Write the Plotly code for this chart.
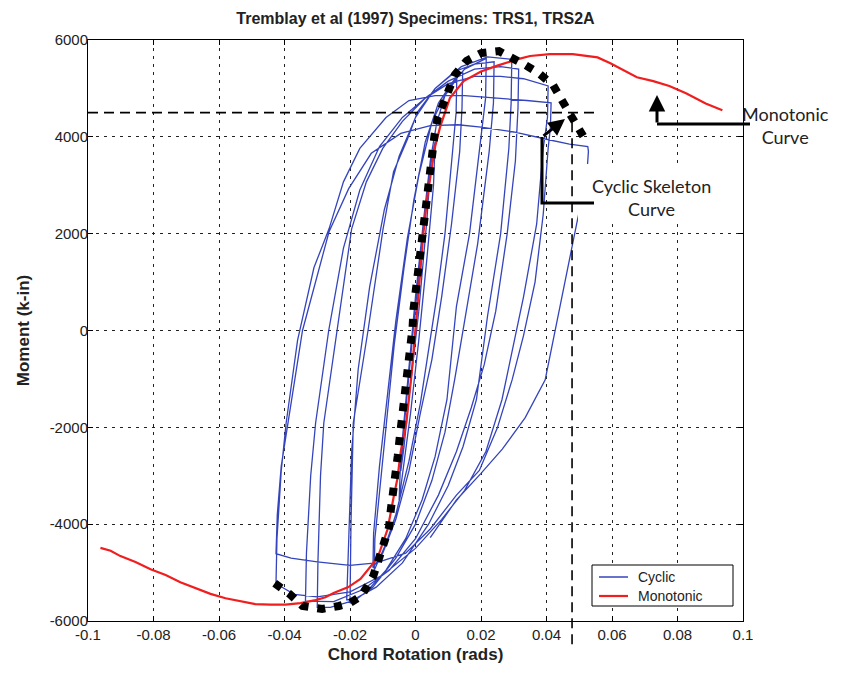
import plotly.graph_objects as go

# ---------------- data ----------------
x_ticks = [-0.1, -0.08, -0.06, -0.04, -0.02, 0, 0.02, 0.04, 0.06, 0.08, 0.1]
x_tick_text = ["-0.1", "-0.08", "-0.06", "-0.04", "-0.02", "0", "0.02", "0.04", "0.06", "0.08", "0.1"]
y_ticks = [-6000, -4000, -2000, 0, 2000, 4000, 6000]
y_tick_text = ["-6000", "-4000", "-2000", "0", "2000", "4000", "6000"]
legend_labels = ["Cyclic", "Monotonic"]

# Monotonic test curve
mono_rot = [-0.0962, -0.0931, -0.0901, -0.0855, -0.0809, -0.0763, -0.0718, -0.0672, -0.0626, -0.058,
            -0.0534, -0.0489, -0.0443, -0.0397, -0.0351, -0.0305, -0.0275, -0.025, -0.0205, -0.0168,
            -0.0116, -0.0085, -0.0067, -0.0055, -0.0045, -0.0028, -0.0012, 0.0, 0.0012, 0.0024,
            0.0035, 0.0048, 0.006, 0.0075, 0.0105, 0.0147, 0.02, 0.025, 0.031, 0.035,
            0.041, 0.048, 0.0556, 0.0595, 0.0645, 0.0676, 0.0726, 0.0775, 0.0826, 0.0886, 0.0937]
mono_mom = [-4490, -4550, -4660, -4780, -4930, -5050, -5200, -5320, -5440, -5530,
            -5590, -5650, -5660, -5660, -5630, -5570, -5510, -5420, -5300, -5130,
            -4700, -4100, -3450, -3050, -2500, -1900, -900, 0, 1000, 2000,
            2700, 3300, 3800, 4200, 4800, 5150, 5350, 5470, 5600, 5670,
            5710, 5710, 5640, 5520, 5350, 5230, 5150, 5050, 4900, 4690, 4550]

# Cyclic skeleton (envelope) curve
skel_rot = [-0.0430, -0.0385, -0.0345, -0.0285, -0.0234, -0.020, -0.0165, -0.0144, -0.0129, -0.0114,
            -0.0096, -0.0081, -0.0075, -0.0066, -0.006, -0.0054, -0.0048, -0.0042, -0.0036, -0.003,
            -0.0024, -0.0018, -0.0009, -0.0006, 0.0, 0.001, 0.0015, 0.002, 0.0024, 0.003,
            0.0039, 0.0045, 0.0051, 0.0058, 0.0068, 0.009, 0.0105, 0.012, 0.0156, 0.0201,
            0.0255, 0.0309, 0.0336, 0.0375, 0.042, 0.0456, 0.048, 0.0515]
skel_mom = [-5220, -5440, -5690, -5750, -5690, -5630, -5480, -5230, -5070, -4760,
            -4340, -4070, -3680, -3300, -2950, -2580, -2200, -1890, -1500, -1160,
            -770, -440, 60, 440, 810, 1160, 1540, 1890, 2260, 2620,
            2990, 3340, 3700, 4030, 4400, 4760, 5110, 5280, 5570, 5730,
            5770, 5590, 5480, 5320, 5070, 4650, 4350, 3980]

# Cyclic test record, one half-cycle per list of (rotation, moment)
h00 = [(0.0, 0), (0.002, 1800), (0.0035, 2800), (0.0045, 3300), (0.0035, 2300), (0.001, 400),
       (-0.002, -1400), (-0.0035, -2400), (-0.0045, -2900), (-0.0035, -2000), (-0.001, -200),
       (0.002, 1900), (0.004, 3200), (0.006, 3900)]
h01 = [(0.0055, 3000), (0.0035, 1500), (0.001, -200), (-0.0015, -1700), (-0.0035, -2800), (-0.005, -3500)]
h02 = [(-0.0045, -2600), (-0.0025, -1100), (0.0, 700), (0.0025, 2300), (0.0045, 3500), (0.0065, 4300),
       (0.009, 4850), (0.0126, 5200)]
h03 = [(0.0124, 4500), (0.0114, 3760), (0.009, 2000), (0.0065, 700), (0.004, -400), (0.0015, -1500),
       (-0.002, -2700), (-0.006, -3800), (-0.009, -4400), (-0.0126, -4950)]
h04 = [(-0.0124, -4300), (-0.0105, -3000), (-0.009, -1910), (-0.0065, -300), (-0.0035, 1300),
       (-0.0005, 2700), (0.003, 3900), (0.007, 4700), (0.0115, 5150), (0.0144, 5350)]
h05 = [(0.0142, 4600), (0.0135, 3700), (0.011, 2200), (0.008, 700), (0.005, -600), (0.0015, -1700),
       (-0.002, -2900), (-0.006, -3900), (-0.010, -4600), (-0.013, -4900)]
h06 = [(-0.0128, -4200), (-0.011, -2800), (-0.0085, -1300), (-0.006, 200), (-0.0025, 1900),
       (0.001, 3200), (0.005, 4300), (0.010, 5000), (0.015, 5400), (0.0216, 5620)]
h07 = [(0.0214, 4800), (0.0195, 3760), (0.0165, 2000), (0.0125, 500), (0.0096, -1430), (0.006, -2600),
       (0.002, -3500), (-0.003, -4300), (-0.009, -4950), (-0.015, -5400), (-0.020, -5630)]
h08 = [(-0.0197, -4000), (-0.019, -1910), (-0.0145, 0), (-0.0099, 2100), (-0.0067, 3280),
       (-0.0024, 3960), (0.0006, 4510), (0.006, 5000), (0.012, 5350), (0.018, 5500), (0.024, 5550)]
h09 = [(0.0238, 4700), (0.0225, 3700), (0.019, 1800), (0.015, 200), (0.012, -1000), (0.009, -2100),
       (0.005, -3100), (0.0, -4000), (-0.006, -4700), (-0.013, -5300), (-0.018, -5550), (-0.021, -5560)]
h10 = [(-0.0205, -4500), (-0.0195, -2500), (-0.0175, -800), (-0.014, 900), (-0.0095, 2500),
       (-0.005, 3600), (0.0, 4400), (0.006, 5000), (0.014, 5450), (0.022, 5650), (0.0294, 5600)]
h11 = [(0.0292, 4700), (0.0285, 3760), (0.026, 2000), (0.022, 300), (0.0186, -1430), (0.0145, -2400),
       (0.010, -3200), (0.004, -4000), (-0.004, -4800), (-0.012, -5300), (-0.020, -5600),
       (-0.026, -5720), (-0.030, -5720)]
h12 = [(-0.0298, -4800), (-0.029, -3000), (-0.028, -1910), (-0.024, 0), (-0.0195, 2100),
       (-0.015, 3070), (-0.010, 3760), (-0.004, 4320), (0.003, 4800), (0.010, 5150), (0.018, 5400),
       (0.026, 5450), (0.0315, 5400)]
h13 = [(0.0313, 4600), (0.0305, 3500), (0.028, 2000), (0.0245, 400), (0.021, -700), (0.017, -1600),
       (0.0125, -2500), (0.007, -3400), (0.0, -4300), (-0.008, -4950), (-0.016, -5350),
       (-0.025, -5600), (-0.0336, -5590)]
h14 = [(-0.0333, -4600), (-0.032, -3000), (-0.0305, -1910), (-0.0265, 0), (-0.022, 1700),
       (-0.017, 2900), (-0.011, 3800), (-0.004, 4400), (0.003, 4800), (0.010, 5100), (0.018, 5250),
       (0.026, 5250), (0.033, 5200), (0.0405, 5050)]
h15 = [(0.0403, 4400), (0.039, 3760), (0.037, 2200), (0.033, 700), (0.0296, -400), (0.0264, -1430),
       (0.0215, -2500), (0.015, -3300), (0.008, -3900), (0.0, -4500), (-0.010, -5050),
       (-0.020, -5400), (-0.030, -5500), (-0.037, -5450), (-0.0426, -5230)]
h16 = [(-0.0423, -4300), (-0.041, -2900), (-0.0395, -1910), (-0.036, -200), (-0.031, 1300),
       (-0.0264, 2100), (-0.022, 3070), (-0.017, 3760), (-0.009, 4400), (-0.002, 4750),
       (0.006, 4850), (0.015, 4850), (0.025, 4800), (0.034, 4750), (0.0414, 4700)]
h17 = [(0.0412, 4200), (0.0405, 3760), (0.039, 2400), (0.0365, 1000), (0.033, -100), (0.0295, -1020),
       (0.025, -2010), (0.0195, -2890), (0.0125, -3400), (0.0045, -4100), (-0.003, -4600),
       (-0.012, -4800), (-0.020, -4850), (-0.030, -4780), (-0.038, -4700), (-0.0426, -4610)]
h18 = [(-0.0422, -3800), (-0.041, -2800), (-0.039, -1910), (-0.0345, 0), (-0.0264, 2040),
       (-0.0204, 2930), (-0.0135, 3660), (-0.0045, 4070), (0.0045, 4230), (0.013, 4250),
       (0.020, 4200), (0.030, 4100), (0.040, 3950), (0.047, 3850), (0.0526, 3800)]
h19 = [(0.0528, 3700), (0.0525, 3400), (0.0515, 2900), (0.0495, 2300), (0.0456, 1000),
       (0.0396, -1020), (0.0335, -1800), (0.0265, -2450), (0.020, -2950), (0.0125, -3500),
       (0.0045, -4280)]

half_cycles = [h00, h01, h02, h03, h04, h05, h06, h07, h08, h09,
               h10, h11, h12, h13, h14, h15, h16, h17, h18, h19]
cyc_rot = [p[0] for h in half_cycles for p in h]
cyc_mom = [p[1] for h in half_cycles for p in h]

# reference (dashed) lines
ref_moment = 4500
ref_rotation = 0.0478
ref_line_end = 0.0562

# ---------------- figure ----------------
W, H = 850, 674
L, R, T, B = 88, 107, 40, 53
PW, PH = W - L - R, H - T - B


def px(xp):
    return (xp - L) / PW


def py(yp):
    return (H - B - yp) / PH


BLUE = "rgb(52,68,188)"
RED = "rgb(240,30,30)"

fig = go.Figure()
fig.add_trace(go.Scatter(x=cyc_rot, y=cyc_mom, mode="lines", name=legend_labels[0],
                         showlegend=False, line=dict(color=BLUE, width=1.3)))
fig.add_trace(go.Scatter(x=mono_rot, y=mono_mom, mode="lines", name=legend_labels[1],
                         showlegend=False, line=dict(color=RED, width=2.2)))
fig.add_trace(go.Scatter(x=skel_rot, y=skel_mom, mode="lines", name="Cyclic Skeleton",
                         showlegend=False, line=dict(color="black", width=8, dash="8px,9px")))

shapes = [
    dict(type="line", xref="x", yref="y", x0=-0.1, x1=ref_line_end, y0=ref_moment, y1=ref_moment,
         line=dict(color="black", width=1.6, dash="10px,6px"), layer="above"),
    dict(type="line", xref="x", yref="paper", x0=ref_rotation, x1=ref_rotation,
         y0=-0.04, y1=(ref_moment + 6000) / 12000,
         line=dict(color="black", width=1.6, dash="10px,6px"), layer="above"),
    dict(type="rect", xref="paper", yref="paper", x0=px(578), x1=px(728), y0=py(224), y1=py(164),
         fillcolor="white", line=dict(width=0), layer="above"),
    dict(type="line", xref="paper", yref="paper", x0=px(657), x1=px(750), y0=py(124), y1=py(124),
         line=dict(color="black", width=3)),
    dict(type="path", xref="paper", yref="paper",
         path=f"M {px(594)},{py(203)} L {px(542)},{py(203)} L {px(542)},{py(137)}",
         line=dict(color="black", width=3)),
    # legend box and samples
    dict(type="rect", xref="paper", yref="paper", x0=px(592), x1=px(733), y0=py(606), y1=py(565),
         fillcolor="white", line=dict(color="black", width=1), layer="above"),
    dict(type="line", xref="paper", yref="paper", x0=px(599), x1=px(628), y0=py(577), y1=py(577),
         line=dict(color=BLUE, width=1.5), layer="above"),
    dict(type="line", xref="paper", yref="paper", x0=px(599), x1=px(628), y0=py(596), y1=py(596),
         line=dict(color=RED, width=2.2), layer="above"),
]

legend_font = dict(family="Liberation Sans, Arial, sans-serif", size=14, color="#222")
annotations = [
    dict(xref="paper", yref="paper", x=px(657), y=py(95), ax=0, ay=29, text="",
         showarrow=True, arrowhead=2, arrowsize=1.1, arrowwidth=3, arrowcolor="black"),
    dict(xref="paper", yref="paper", x=px(565), y=py(119), ax=-23, ay=18, text="",
         showarrow=True, arrowhead=2, arrowsize=1.1, arrowwidth=3, arrowcolor="black"),
    dict(xref="paper", yref="paper", x=px(785), y=py(126), text="Monotonic<br>Curve",
         showarrow=False, font=dict(family="Lato, Open Sans, sans-serif", size=18, color="#222"),
         xanchor="center", yanchor="middle"),
    dict(xref="paper", yref="paper", x=px(651), y=py(197), text="Cyclic Skeleton<br>Curve",
         showarrow=False, font=dict(family="Lato, Open Sans, sans-serif", size=18, color="#222"),
         xanchor="center", yanchor="middle"),
    dict(xref="paper", yref="paper", x=px(636), y=py(577), text=legend_labels[0],
         showarrow=False, font=legend_font, xanchor="left", yanchor="middle"),
    dict(xref="paper", yref="paper", x=px(636), y=py(596), text=legend_labels[1],
         showarrow=False, font=legend_font, xanchor="left", yanchor="middle"),
]

tick_font = dict(family="Liberation Sans Narrow, Arial Narrow, Liberation Sans, Arial, sans-serif",
                 size=15, color="#222")
title_font = dict(family="Liberation Sans, Arial, sans-serif", size=17, color="#222")

fig.update_layout(
    width=W, height=H,
    margin=dict(l=L, r=R, t=T, b=B, autoexpand=False),
    paper_bgcolor="white", plot_bgcolor="white",
    showlegend=False,
    title=dict(text="<b>Tremblay et al (1997) Specimens: TRS1, TRS2A</b>",
               x=0.5, xref="paper", xanchor="center", y=1 - 18 / H, yref="container",
               yanchor="middle",
               font=dict(family="Liberation Sans, Arial, sans-serif", size=16, color="#222")),
    xaxis=dict(range=[-0.1, 0.1], tickvals=x_ticks, ticktext=x_tick_text,
               showgrid=True, gridcolor="#222", griddash="3px,5px", gridwidth=1,
               zeroline=False, showline=True, linecolor="black", linewidth=1, mirror="ticks",
               ticks="inside", ticklen=5, tickcolor="black", tickfont=tick_font,
               title=dict(text="<b>Chord Rotation (rads)</b>", font=title_font, standoff=6),
               automargin=False),
    yaxis=dict(range=[-6000, 6000], tickvals=y_ticks, ticktext=y_tick_text,
               showgrid=True, gridcolor="#222", griddash="3px,5px", gridwidth=1,
               zeroline=False, showline=True, linecolor="black", linewidth=1, mirror="ticks",
               ticks="inside", ticklen=5, tickcolor="black", tickfont=tick_font,
               ticklabelstandoff=-4,
               title=dict(text="<b>Moment (k-in)</b>", font=title_font, standoff=15),
               automargin=False),
    shapes=shapes,
    annotations=annotations,
)

fig.write_html("out.html", config={"displayModeBar": False},
               post_script="document.body.style.margin='0';document.body.style.overflow='hidden';")
